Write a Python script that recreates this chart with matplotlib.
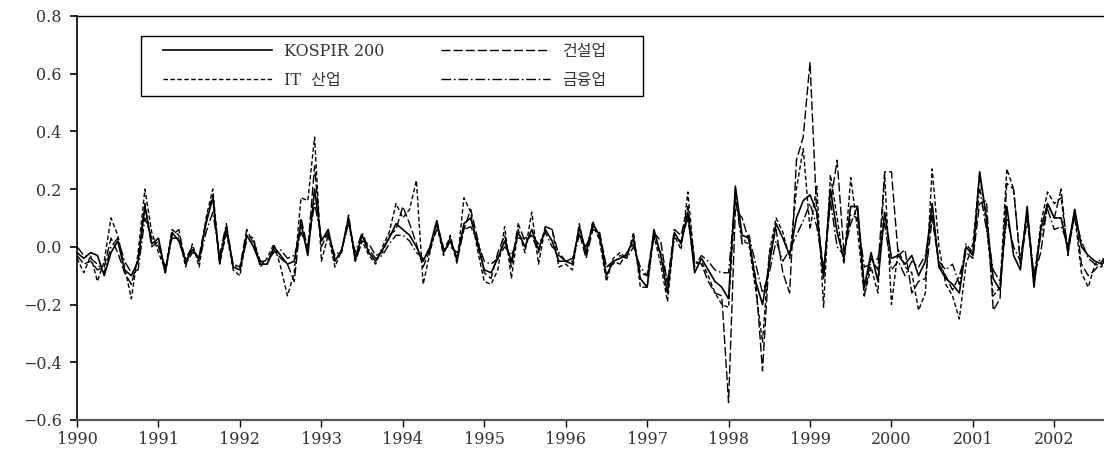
import numpy as np
import matplotlib
matplotlib.use("Agg")
import matplotlib.pyplot as plt
from matplotlib.patches import Rectangle

plt.rcParams['font.family'] = ['DejaVu Serif', 'Noto Sans CJK KR']

# monthly returns, Jan 1990 - Sep 2002
kospi = [-0.02, -0.04, -0.02, -0.03, -0.10, -0.02, 0.02, -0.08, -0.10, -0.05,
         0.14, 0.01, 0.03, -0.09, 0.05, 0.02, -0.05, -0.01, -0.04, 0.08,
         0.17, -0.05, 0.07, -0.07, -0.08, 0.04, 0.00, -0.06, -0.06, 0.00,
         -0.03, -0.06, -0.05, 0.08, -0.03, 0.20, 0.02, 0.06, -0.05, -0.01,
         0.10, -0.04, 0.04, -0.02, -0.05, -0.01, 0.03, 0.08, 0.06, 0.04,
         0.00, -0.05, 0.00, 0.09, -0.02, 0.02, -0.04, 0.08, 0.10, 0.01,
         -0.08, -0.09, -0.04, 0.02, -0.05, 0.05, 0.00, 0.06, -0.01, 0.06,
         0.02, -0.05, -0.05, -0.06, 0.07, -0.02, 0.08, 0.04, -0.10, -0.05,
         -0.04, -0.03, 0.03, -0.11, -0.14, 0.06, -0.03, -0.16, 0.05, 0.01,
         0.12, -0.09, -0.04, -0.08, -0.12, -0.14, -0.18, 0.21, 0.04, 0.03,
         -0.12, -0.20, -0.06, 0.08, 0.03, -0.03, 0.10, 0.16, 0.18, 0.12,
         -0.11, 0.20, 0.05, -0.04, 0.14, 0.14, -0.14, -0.02, -0.12, 0.12,
         -0.04, -0.03, -0.06, -0.03, -0.10, -0.05, 0.15, -0.07, -0.11, -0.13,
         -0.16, 0.00, -0.03, 0.26, 0.10, -0.11, -0.15, 0.14, -0.03, -0.08,
         0.14, -0.14, 0.06, 0.15, 0.10, 0.10, -0.01, 0.13, 0.00, -0.03,
         -0.05, -0.06, -0.04]

it = [-0.04, -0.09, -0.03, -0.12, -0.05, 0.10, 0.04, -0.07, -0.18, -0.02,
      0.20, 0.05, -0.02, -0.08, 0.06, 0.04, -0.07, 0.01, -0.07, 0.10,
      0.20, -0.06, 0.05, -0.08, -0.10, 0.04, 0.03, -0.07, -0.04, 0.01,
      -0.07, -0.17, -0.09, 0.17, 0.16, 0.38, -0.05, 0.04, -0.07, -0.01,
      0.09, -0.05, 0.02, -0.03, -0.06, 0.00, 0.05, 0.15, 0.10, 0.13,
      0.23, -0.13, -0.02, 0.08, -0.03, 0.04, -0.06, 0.17, 0.12, -0.01,
      -0.12, -0.13, -0.08, 0.07, -0.11, 0.06, -0.02, 0.12, -0.06, 0.07,
      0.06, -0.07, -0.06, -0.08, 0.08, -0.03, 0.09, 0.02, -0.12, -0.04,
      -0.02, -0.04, 0.05, -0.14, -0.14, 0.04, -0.06, -0.19, 0.04, -0.01,
      0.19, -0.06, -0.05, -0.10, -0.16, -0.20, -0.21, 0.18, 0.02, 0.01,
      -0.15, -0.33, -0.02, 0.10, 0.05, -0.04, 0.20, 0.34, 0.06, 0.21,
      -0.21, 0.25, 0.10, -0.06, 0.24, 0.06, -0.17, -0.07, -0.16, 0.25,
      -0.20, -0.01, -0.07, -0.09, -0.22, -0.16, 0.27, 0.00, -0.13, -0.17,
      -0.25, -0.06, 0.01, 0.25, 0.08, -0.17, -0.14, 0.27, 0.20, -0.05,
      0.12, -0.12, 0.08, 0.19, 0.15, 0.17, -0.02, 0.11, -0.09, -0.14,
      -0.06, -0.07, 0.01]

construction = [-0.03, -0.06, -0.05, -0.08, -0.07, 0.03, -0.02, -0.09, -0.13, -0.04,
                0.15, 0.00, 0.02, -0.09, 0.04, 0.06, -0.06, -0.02, -0.03, 0.09,
                0.18, -0.06, 0.06, -0.06, -0.07, 0.06, 0.01, -0.05, -0.06, -0.01,
                -0.04, -0.06, -0.12, 0.10, -0.01, 0.28, 0.00, 0.05, -0.04, -0.02,
                0.11, -0.05, 0.02, 0.01, -0.03, -0.02, 0.04, 0.06, 0.14, 0.08,
                0.01, -0.07, -0.01, 0.09, -0.01, 0.03, -0.05, 0.06, 0.13, 0.03,
                -0.09, -0.11, -0.02, 0.04, -0.07, 0.08, 0.02, 0.04, -0.02, 0.07,
                0.06, -0.03, -0.05, -0.04, 0.05, -0.04, 0.06, 0.05, -0.07, -0.05,
                -0.06, -0.02, 0.01, -0.09, -0.10, 0.05, 0.02, -0.13, 0.06, 0.04,
                0.14, -0.05, -0.06, -0.12, -0.16, -0.17, -0.54, 0.13, 0.10, 0.02,
                -0.11, -0.43, -0.03, 0.06, -0.09, -0.16, 0.30, 0.38, 0.64, 0.11,
                -0.08, 0.15, 0.30, -0.02, 0.08, 0.14, -0.17, -0.04, -0.08, 0.26,
                0.26, -0.03, -0.01, -0.16, -0.12, -0.11, 0.10, -0.06, -0.10, -0.15,
                -0.10, -0.02, -0.04, 0.15, 0.16, -0.22, -0.18, 0.22, 0.20, -0.06,
                0.09, -0.10, -0.02, 0.15, 0.10, 0.20, -0.03, 0.13, -0.06, -0.10,
                -0.08, -0.05, -0.03]

finance = [0.00, -0.03, -0.04, -0.06, -0.09, 0.00, 0.03, -0.05, -0.09, -0.08,
           0.10, 0.03, 0.00, -0.07, 0.03, 0.03, -0.04, 0.00, -0.05, 0.05,
           0.12, -0.03, 0.08, -0.07, -0.07, 0.02, 0.02, -0.05, -0.05, -0.02,
           -0.01, -0.04, -0.03, 0.05, 0.00, 0.15, 0.03, 0.04, -0.03, -0.01,
           0.08, -0.02, 0.05, -0.01, -0.04, -0.03, 0.01, 0.04, 0.04, 0.02,
           -0.02, -0.04, -0.01, 0.06, 0.00, 0.00, -0.02, 0.06, 0.07, 0.02,
           -0.05, -0.06, -0.04, 0.00, -0.03, 0.03, 0.03, 0.04, 0.01, 0.05,
           0.00, -0.02, -0.05, -0.05, 0.04, 0.00, 0.07, 0.03, -0.07, -0.06,
           -0.03, -0.04, 0.00, -0.07, -0.10, 0.03, -0.02, -0.12, 0.03, 0.02,
           0.10, -0.07, -0.03, -0.05, -0.08, -0.09, -0.09, 0.17, 0.01, 0.04,
           -0.06, -0.16, -0.09, 0.02, -0.05, -0.01, 0.04, 0.09, 0.15, 0.07,
           -0.08, 0.16, 0.00, -0.03, 0.11, 0.10, -0.07, -0.06, -0.04, 0.08,
           -0.08, -0.05, -0.10, -0.05, -0.07, -0.03, 0.11, -0.05, -0.08, -0.06,
           -0.13, 0.01, -0.02, 0.20, 0.06, -0.08, -0.12, 0.10, 0.00, -0.05,
           0.12, -0.10, 0.04, 0.13, 0.06, 0.07, 0.01, 0.10, 0.02, -0.04,
           -0.06, -0.04, -0.05]

labels = ['KOSPIR 200', 'IT  산업', '건설업', '금융업']
year_ticks = list(range(1990, 2003))
y_ticks = [-0.6, -0.4, -0.2, 0.0, 0.2, 0.4, 0.6, 0.8]

W, H = 1104, 455

# time axis in years, one point per month
t = 1990 + np.arange(len(kospi)) / 12.0

fig = plt.figure(figsize=(W / 100, H / 100), dpi=100)
ax = fig.add_axes([0.0698, 0.077, 0.9302, 0.888])

ax.plot(t, kospi, color='black', lw=1.2, label=labels[0])
ax.plot(t, it, color='black', lw=1.0, dashes=(3.2, 1.8), label=labels[1])
ax.plot(t, construction, color='black', lw=1.0, dashes=(6.5, 2.2), label=labels[2])
ax.plot(t, finance, color='black', lw=1.0, dashes=(7, 2, 1.2, 2), label=labels[3])

ax.set_xlim(1990, 2002.61)
ax.set_ylim(-0.6, 0.8)
ax.set_xticks(year_ticks)
ax.set_xticklabels([str(y) for y in year_ticks])
ax.set_yticks(y_ticks)
ax.set_yticklabels(['%.1f' % v if v >= 0 else '\u2212%.1f' % abs(v) for v in y_ticks])

ax.spines['right'].set_visible(False)
ax.spines['left'].set_linewidth(1.2)
ax.spines['top'].set_linewidth(1.0)
ax.spines['bottom'].set_linewidth(1.6)
ax.spines['bottom'].set_color('#555555')
ax.tick_params(axis='y', direction='out', length=5, width=1.2, labelsize=11.5,
               labelcolor='#333333', pad=6)
ax.tick_params(axis='x', direction='out', length=5, width=1.0, labelsize=11.5,
               labelcolor='#333333', pad=3)

# legend box drawn by hand so the padding matches
box = Rectangle((141 / W, 1 - 96 / H), 502 / W, 60 / H,
                transform=fig.transFigure, facecolor='white',
                edgecolor='black', lw=1.0, zorder=5, clip_on=False)
ax.add_patch(box)
leg = ax.legend(ncol=2, loc='upper left', bbox_to_anchor=(163 / W, 1 - 43 / H),
                bbox_transform=fig.transFigure, frameon=False,
                borderaxespad=0, borderpad=0,
                handlelength=6.8, columnspacing=3.6, fontsize=11.5,
                labelspacing=0.72, handletextpad=0.75)
leg.set_zorder(6)
for txt in leg.get_texts():
    txt.set_color('#333333')

fig.savefig('out.png', dpi=100)
